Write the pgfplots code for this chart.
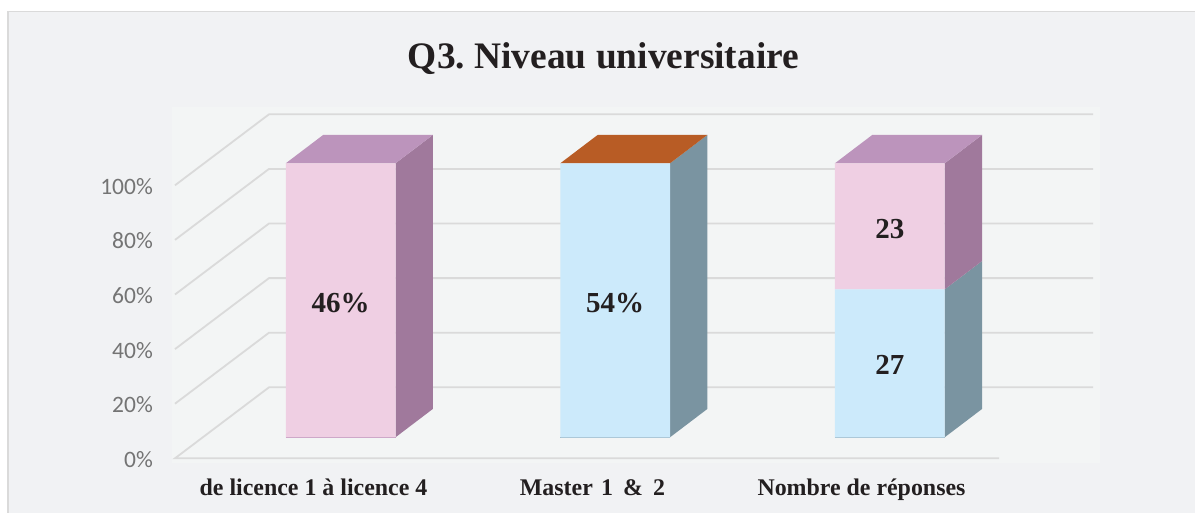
\documentclass[border=0pt]{standalone}
\usepackage{fontspec}
\usepackage{pgfplots}
\pgfplotsset{compat=1.18}
\setmainfont{Liberation Serif}
\newfontfamily\carlito{Carlito}
\definecolor{bgc}{HTML}{F1F2F4}
\definecolor{innerc}{HTML}{F3F5F5}
\definecolor{framec}{HTML}{DADADA}
\definecolor{gridc}{HTML}{DADADA}
\definecolor{pinkf}{HTML}{EFCFE3}
\definecolor{pinks}{HTML}{A0799C}
\definecolor{pinkt}{HTML}{BC94BC}
\definecolor{bluef}{HTML}{CCEAFB}
\definecolor{blues}{HTML}{7A94A1}
\definecolor{oranget}{HTML}{B85C25}
\definecolor{txt}{HTML}{231F20}
\definecolor{tickc}{HTML}{747474}
\begin{document}
\begin{tikzpicture}
\useasboundingbox (0,0) rectangle (1195pt,513pt);
% page: pixel space
\begin{axis}[at={(0pt,0pt)},anchor=south west,scale only axis,width=1195pt,height=513pt,
  xmin=0,xmax=1195,ymin=0,ymax=513,y dir=reverse,hide axis,clip=false]
\addplot[draw=none,fill=framec] coordinates {(7,513)(7,11)(1195,11)(1195,513)} -- cycle;
\addplot[draw=none,fill=bgc] coordinates {(9,513)(9,12.5)(1195,12.5)(1195,513)} -- cycle;
\addplot[draw=none,fill=innerc] coordinates {(172,463)(172,107)(1100,107)(1100,463)} -- cycle;
\node[anchor=base,text=txt,font=\fontsize{37.4}{40}\selectfont\bfseries] at (axis cs:603.5,68.5) {Q3.\hspace{-0.08em} Niveau universitaire};
\end{axis}
% value axis and walls
\begin{axis}[at={(175pt,54.7pt)},anchor=south west,scale only axis,width=824pt,height=273pt,
  xmin=175,xmax=999,ymin=0,ymax=100,clip=false,axis line style={draw=none},
  major tick length=0pt,
  ytick={0,20,40,60,80,100},yticklabels={0\%,20\%,40\%,60\%,80\%,100\%},
  yticklabel style={text=tickc,font=\carlito\fontsize{23.5}{26}\selectfont,inner sep=0pt,xshift=-22pt,yshift=-1pt},
  xtick={313.5,592.5,861.5},xticklabels={de licence 1 à licence 4,Master\hspace{.1em} 1\hspace{.17em} \&\hspace{.17em} 2,Nombre de réponses},
  xticklabel style={text=txt,font=\fontsize{23.9}{26}\selectfont\bfseries,anchor=base,yshift=-37.7pt}]
\addplot[gridc,line width=1.8pt] coordinates {(999,0)(175,0)(269,26)(1093,26)};
\addplot[gridc,line width=1.8pt] coordinates {(175,20)(269,46)(1093,46)};
\addplot[gridc,line width=1.8pt] coordinates {(175,40)(269,66)(1093,66)};
\addplot[gridc,line width=1.8pt] coordinates {(175,60)(269,86)(1093,86)};
\addplot[gridc,line width=1.8pt] coordinates {(175,80)(269,106)(1093,106)};
\addplot[gridc,line width=1.8pt] coordinates {(175,100)(269,126)(1093,126)};
\end{axis}
% depth faces of the bars
\begin{axis}[at={(0pt,75.7pt)},anchor=south west,scale only axis,width=1195pt,height=274pt,
  xmin=0,xmax=1195,ymin=0,ymax=100,hide axis,clip=false]
\addplot[draw=none,fill=pinks] coordinates {(395.5,0)(432.8,10.33)(432.8,110.33)(395.5,100)} -- cycle;
\addplot[draw=none,fill=pinkt] coordinates {(285.8,100)(323.1,110.33)(432.8,110.33)(395.5,100)} -- cycle;
\addplot[draw=none,fill=blues] coordinates {(670,0)(707.3,10.33)(707.3,110.33)(670,100)} -- cycle;
\addplot[draw=none,fill=oranget] coordinates {(560.3,100)(597.6,110.33)(707.3,110.33)(670,100)} -- cycle;
\addplot[draw=none,fill=blues] coordinates {(944.7,0)(982,10.33)(982,64.33)(944.7,54)} -- cycle;
\addplot[draw=none,fill=pinks] coordinates {(944.7,54)(982,64.33)(982,110.33)(944.7,100)} -- cycle;
\addplot[draw=none,fill=pinkt] coordinates {(834.9,100)(872.2,110.33)(982,110.33)(944.7,100)} -- cycle;
\addplot[pinkt,line width=1pt] coordinates {(285.8,0)(395.5,0)};
\addplot[blues!60!bluef,line width=1pt] coordinates {(560.3,0)(670,0)};
\addplot[blues!60!bluef,line width=1pt] coordinates {(834.9,0)(944.7,0)};
\end{axis}
% front faces of the bars
\begin{axis}[at={(0pt,75.7pt)},anchor=south west,scale only axis,width=1195pt,height=274pt,
  xmin=0,xmax=1195,ymin=0,ymax=100,hide axis,clip=false,ybar stacked,bar width=109.8pt]
\addplot[draw=none,fill=bluef] coordinates {(340.65,0)(615.15,100)(889.8,54)};
\addplot[draw=none,fill=pinkf] coordinates {(340.65,100)(615.15,0)(889.8,46)};
\end{axis}
% value labels
\begin{axis}[at={(0pt,75.7pt)},anchor=south west,scale only axis,width=1195pt,height=274pt,
  xmin=0,xmax=1195,ymin=0,ymax=100,hide axis,clip=false]
\node[text=txt,font=\fontsize{29}{31}\selectfont\bfseries] at (axis cs:340.65,49) {46\%};
\node[text=txt,font=\fontsize{29}{31}\selectfont\bfseries] at (axis cs:615.15,49) {54\%};
\node[text=txt,font=\fontsize{29}{31}\selectfont\bfseries] at (axis cs:889.8,76) {23};
\node[text=txt,font=\fontsize{29}{31}\selectfont\bfseries] at (axis cs:889.8,26.4) {27};
\end{axis}
\end{tikzpicture}
\end{document}
